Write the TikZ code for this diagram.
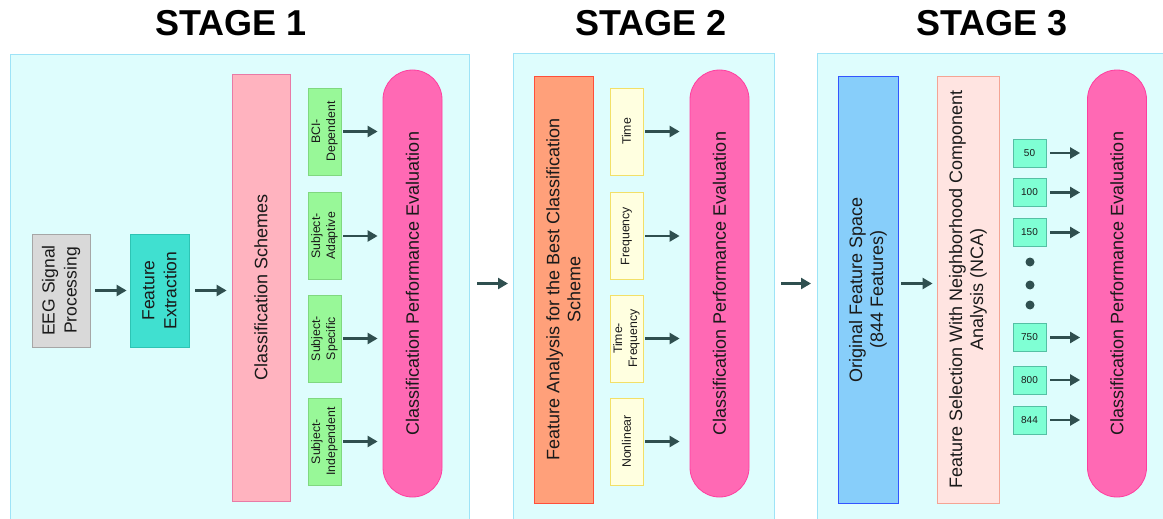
\documentclass[tikz,border=0pt]{standalone}
\usepackage{fontspec}
\setmainfont{Liberation Sans}
\usetikzlibrary{arrows.meta}
\definecolor{panelfill}{HTML}{DEFDFD}
\definecolor{panelline}{HTML}{9EE3F7}
\definecolor{arrowcol}{HTML}{2F4F4F}
\definecolor{textcol}{HTML}{1A1A1A}
\definecolor{grayfill}{HTML}{D9D9D9}
\definecolor{grayline}{HTML}{A6A6A6}
\definecolor{turqfill}{HTML}{40E0D0}
\definecolor{turqline}{HTML}{2EC4B4}
\definecolor{schemefill}{HTML}{FFB3BF}
\definecolor{schemeline}{HTML}{E87AA6}
\definecolor{greenfill}{HTML}{98F898}
\definecolor{greenline}{HTML}{80D880}
\definecolor{pinkfill}{HTML}{FF69B4}
\definecolor{pinkline}{HTML}{FF3D9E}
\definecolor{orangefill}{HTML}{FFA07A}
\definecolor{orangeline}{HTML}{FF4F3A}
\definecolor{yellowfill}{HTML}{FFFFE0}
\definecolor{yellowline}{HTML}{F2E068}
\definecolor{bluefill}{HTML}{87CEFA}
\definecolor{blueline}{HTML}{3355FF}
\definecolor{rosefill}{HTML}{FFE4E1}
\definecolor{roseline}{HTML}{F4A494}
\definecolor{aquafill}{HTML}{7FFFD4}
\definecolor{aqualine}{HTML}{55C0A4}

\begin{document}
\begin{tikzpicture}[x=1pt,y=-1pt,
  panel/.style={draw=panelline,fill=panelfill,line width=1.2pt,inner sep=0pt},
  title/.style={font=\fontsize{36}{40}\bfseries\selectfont},
  box/.style={draw,rotate=90,inner sep=1pt,align=center,text=textcol,line width=0.8pt,
    font=\fontsize{18}{21}\selectfont},
  tagbox/.style={box,minimum width=87pt,minimum height=33pt,font=\fontsize{12.3}{15}\selectfont},
  numbox/.style={draw=aqualine,fill=aquafill,line width=0.8pt,minimum width=33pt,minimum height=28pt,
    inner sep=0pt,text=textcol,font=\fontsize{10}{12}\selectfont},
  pill/.style={box,rounded corners=29.5pt,fill=pinkfill,draw=pinkline,minimum width=427pt,minimum height=59pt},
  flow/.style={draw=arrowcol,line width=2.3pt,-{Triangle[length=10pt,width=11pt]}},
  ]
  \clip (0,0) rectangle (1163,519);

  % titles
  \node[title] (t1) at (231,23) {STAGE 1};
  \node[title] (t2) at (651,23) {STAGE 2};
  \node[title] (t3) at (992,23) {STAGE 3};

  % panels
  \node[panel,minimum width=459pt,minimum height=480pt,anchor=north west] (p1) at (10,54) {};
  \node[panel,minimum width=261pt,minimum height=480pt,anchor=north west] (p2) at (513,53) {};
  \node[panel,minimum width=360pt,minimum height=480pt,anchor=north west] (p3) at (817,53) {};

  % stage 1
  \node[box,fill=grayfill,draw=grayline,minimum width=113pt,minimum height=58pt,
    font=\fontsize{17.5}{22}\selectfont] (eeg) at (61,290.5) {EEG Signal\\Processing};
  \node[box,fill=turqfill,draw=turqline,minimum width=113pt,minimum height=59pt,
    font=\fontsize{17.5}{22}\selectfont] (fext) at (159.5,290.5) {Feature\\Extraction};
  \node[box,fill=schemefill,draw=schemeline,minimum width=427pt,minimum height=58pt] (schemes) at (261,287.5)
    {Classification Schemes};
  \node[tagbox,fill=greenfill,draw=greenline] (bci) at (324.5,131.5) {BCI-\\Dependent};
  \node[tagbox,fill=greenfill,draw=greenline] (adapt) at (324.5,236) {Subject-\\Adaptive};
  \node[tagbox,fill=greenfill,draw=greenline] (spec) at (324.5,338.5) {Subject-\\Specific};
  \node[tagbox,fill=greenfill,draw=greenline] (indep) at (324.5,441.5) {Subject-\\Independent};
  \node[pill] (eval1) at (412.5,283.5) {Classification Performance Evaluation};

  % rotated nodes: south = right side, north = left side
  \draw[flow,shorten <=5pt,shorten >=3pt] (eeg.south) -- (fext.north);
  \draw[flow,shorten <=6pt,shorten >=5pt] (fext.south) -- (fext.south -| schemes.north);
  \draw[flow,shorten <=2pt,shorten >=5pt] (bci.south) -- (bci.south -| eval1.north);
  \draw[flow,shorten <=2pt,shorten >=5pt] (adapt.south) -- (adapt.south -| eval1.north);
  \draw[flow,shorten <=2pt,shorten >=5pt] (spec.south) -- (spec.south -| eval1.north);
  \draw[flow,shorten <=2pt,shorten >=5pt] (indep.south) -- (indep.south -| eval1.north);

  \draw[flow,shorten <=7pt,shorten >=5pt] (p1.east |- eval1.center) -- (p2.west |- eval1.center);

  % stage 2
  \node[box,fill=orangefill,draw=orangeline,minimum width=427pt,minimum height=59pt] (fana) at (563.5,289.5)
    {Feature Analysis for the Best Classification\\Scheme};
  \node[tagbox,fill=yellowfill,draw=yellowline] (time) at (626.5,131.5) {Time};
  \node[tagbox,fill=yellowfill,draw=yellowline] (freq) at (626.5,236) {Frequency};
  \node[tagbox,fill=yellowfill,draw=yellowline] (tfreq) at (626.5,338.5) {Time-\\Frequency};
  \node[tagbox,fill=yellowfill,draw=yellowline] (nonlin) at (626.5,441.5) {Nonlinear};
  \node[pill] (eval2) at (719.5,283.5) {Classification Performance Evaluation};

  \draw[flow,shorten <=2pt,shorten >=10pt] (time.south) -- (time.south -| eval2.north);
  \draw[flow,shorten <=2pt,shorten >=10pt] (freq.south) -- (freq.south -| eval2.north);
  \draw[flow,shorten <=2pt,shorten >=10pt] (tfreq.south) -- (tfreq.south -| eval2.north);
  \draw[flow,shorten <=2pt,shorten >=10pt] (nonlin.south) -- (nonlin.south -| eval2.north);

  \draw[flow,shorten <=6pt,shorten >=6pt] (p2.east |- eval2.center) -- (p3.west |- eval2.center);

  % stage 3
  \node[box,fill=bluefill,draw=blueline,minimum width=427pt,minimum height=60pt] (orig) at (868,289.5)
    {Original Feature Space\\(844 Features)};
  \node[box,fill=rosefill,draw=roseline,minimum width=427pt,minimum height=62pt] (nca) at (968,289.5)
    {Feature Selection With Neighborhood Component\\Analysis (NCA)};
  \node[pill] (eval3) at (1117,283.5) {Classification Performance Evaluation};

  \draw[flow,shorten <=3pt,shorten >=4pt] (orig.south |- eval3.center) -- (nca.north |- eval3.center);

  \node[numbox] (n50) at (1029.5,153) {50};
  \node[numbox] (n100) at (1029.5,192.5) {100};
  \node[numbox] (n150) at (1029.5,232.5) {150};
  \node[numbox] (n750) at (1029.5,337.5) {750};
  \node[numbox] (n800) at (1029.5,380) {800};
  \node[numbox] (n844) at (1029.5,420) {844};
  \path[fill=arrowcol] (1030,262) circle (4.5pt);
  \path[fill=arrowcol] (1030,285) circle (4.5pt);
  \path[fill=arrowcol] (1030,305) circle (4.5pt);

  \draw[flow,shorten <=4pt,shorten >=7pt] (n50.east) -- (n50.east -| eval3.north);
  \draw[flow,shorten <=4pt,shorten >=7pt] (n100.east) -- (n100.east -| eval3.north);
  \draw[flow,shorten <=4pt,shorten >=7pt] (n150.east) -- (n150.east -| eval3.north);
  \draw[flow,shorten <=4pt,shorten >=7pt] (n750.east) -- (n750.east -| eval3.north);
  \draw[flow,shorten <=4pt,shorten >=7pt] (n800.east) -- (n800.east -| eval3.north);
  \draw[flow,shorten <=4pt,shorten >=7pt] (n844.east) -- (n844.east -| eval3.north);
\end{tikzpicture}
\end{document}
